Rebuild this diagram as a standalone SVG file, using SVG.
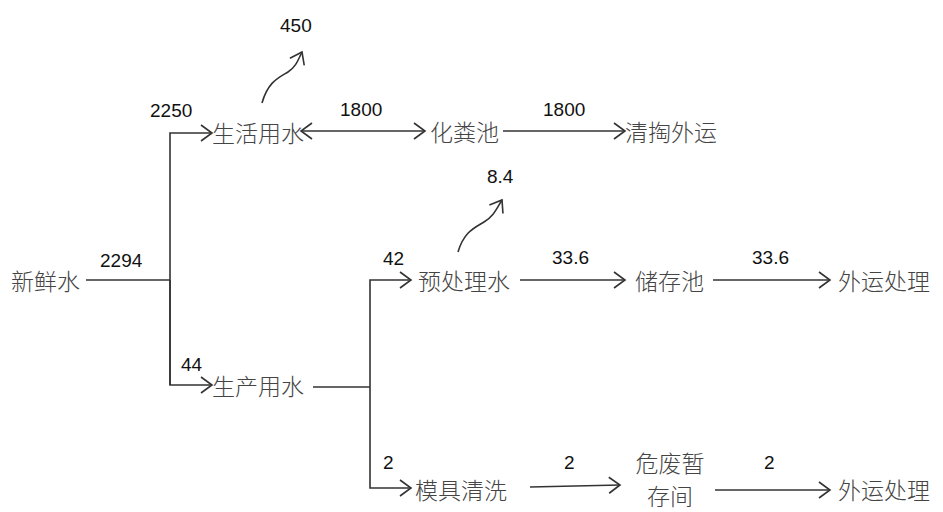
<svg xmlns="http://www.w3.org/2000/svg" width="943" height="512" viewBox="0 0 943 512">
<defs>
<marker id="ah" markerWidth="14" markerHeight="18" refX="12" refY="9" orient="auto" markerUnits="userSpaceOnUse">
<path d="M1,1 L12,9 L1,17" fill="none" stroke="#333" stroke-width="1.6"/>
</marker>
<marker id="ahs" markerWidth="14" markerHeight="18" refX="2" refY="9" orient="auto" markerUnits="userSpaceOnUse">
<path d="M13,1 L2,9 L13,17" fill="none" stroke="#333" stroke-width="1.6"/>
</marker>
<style>
.n{font-family:"Noto Sans CJK SC","Noto Sans",sans-serif;font-size:23px;font-weight:300;fill:#444;dominant-baseline:central}
.v{font-family:"Liberation Sans",Arial,sans-serif;font-size:19px;fill:#111}
.c{fill:none;stroke:#333;stroke-width:1.6}
</style>
</defs>
<rect width="943" height="512" fill="#fff"/>
<g id="connectors">
<path class="c" d="M86,280 H170"/>
<path class="c" d="M170,385 V133 H212" marker-end="url(#ah)"/>
<path class="c" d="M170,280 V385 H212" marker-end="url(#ah)"/>
<path class="c" d="M301,131 H425" marker-start="url(#ahs)" marker-end="url(#ah)"/>
<path class="c" d="M503,131 H625" marker-end="url(#ah)"/>
<path class="c" d="M262,103 C268,82 278,78 288,72 C296,67 298,60 302,52" marker-end="url(#ah)"/>
<path class="c" d="M313,387 H370"/>
<path class="c" d="M370,387 V280 H411" marker-end="url(#ah)"/>
<path class="c" d="M370,387 V488 H411" marker-end="url(#ah)"/>
<path class="c" d="M458,252 C464,232 474,228 484,222 C494,216 497,208 502,200" marker-end="url(#ah)"/>
<path class="c" d="M520,280 H625" marker-end="url(#ah)"/>
<path class="c" d="M713,280 H830" marker-end="url(#ah)"/>
<path class="c" d="M530,487 L620,485" marker-end="url(#ah)"/>
<path class="c" d="M715,490 H830" marker-end="url(#ah)"/>
</g>
<g id="n-xinxianshui"><text class="n" x="11" y="280">新鲜水</text></g>
<g id="n-shenghuo"><text class="n" x="212" y="132">生活用水</text></g>
<g id="n-huafenchi"><text class="n" x="430" y="131">化粪池</text></g>
<g id="n-qingtao"><text class="n" x="625" y="131">清掏外运</text></g>
<g id="n-shengchan"><text class="n" x="212" y="385">生产用水</text></g>
<g id="n-yuchuli"><text class="n" x="418" y="280">预处理水</text></g>
<g id="n-chucunchi"><text class="n" x="635" y="280">储存池</text></g>
<g id="n-waiyun1"><text class="n" x="838" y="280">外运处理</text></g>
<g id="n-moju"><text class="n" x="415" y="489">模具清洗</text></g>
<g id="n-weifei"><text class="n" x="670" y="462" text-anchor="middle">危废暂</text><text class="n" x="670" y="495" text-anchor="middle">存间</text></g>
<g id="n-waiyun2"><text class="n" x="838" y="489">外运处理</text></g>
<g id="labels">
<text class="v" x="100" y="267">2294</text>
<text class="v" x="150" y="117">2250</text>
<text class="v" x="280" y="32">450</text>
<text class="v" x="340" y="116">1800</text>
<text class="v" x="543" y="116">1800</text>
<text class="v" x="181" y="371">44</text>
<text class="v" x="383" y="265">42</text>
<text class="v" x="487" y="183">8.4</text>
<text class="v" x="552" y="264">33.6</text>
<text class="v" x="752" y="264">33.6</text>
<text class="v" x="383" y="469">2</text>
<text class="v" x="564" y="469">2</text>
<text class="v" x="764" y="469">2</text>
</g>
</svg>
